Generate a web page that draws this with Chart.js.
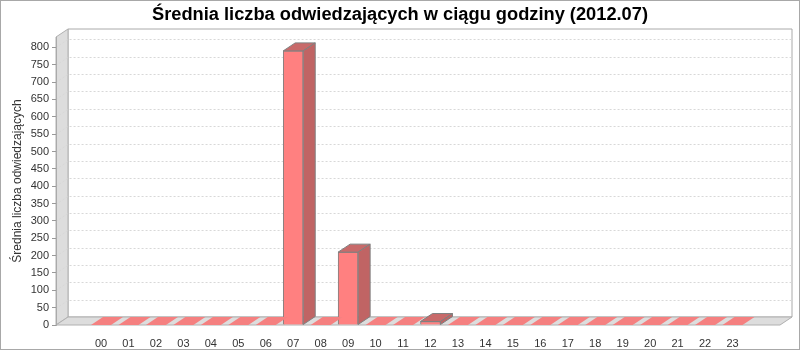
<!DOCTYPE html>
<html>
<head>
<meta charset="utf-8">
<script src="https://cdn.jsdelivr.net/npm/chart.js@4/dist/chart.umd.min.js"></script>
<style>
    body { margin: 0; background: #fff; }
    canvas { display: block; }
</style>
</head>
<body>
<canvas id="wykres" width="800" height="350"></canvas>
<script>
const godziny = ['00', '01', '02', '03', '04', '05', '06', '07', '08', '09', '10', '11',
    '12', '13', '14', '15', '16', '17', '18', '19', '20', '21', '22', '23'];
const odwiedzajacy = [0, 0, 0, 0, 0, 0, 0, 790, 0, 210, 0, 0,
    10, 0, 0, 0, 0, 0, 0, 0, 0, 0, 0, 0];
const tytul = 'Średnia liczba odwiedzających w ciągu godziny (2012.07)';
const tytulOsiY = 'Średnia liczba odwiedzających';

// przesuniecie 3D (jak w JFreeChart)
const dx = 12;
const dy = 8;
const font = 'Liberation Sans, Arial, sans-serif';

function poly(ctx, pts, fill, stroke) {
    ctx.beginPath();
    ctx.moveTo(pts[0][0], pts[0][1]);
    for (let i = 1; i < pts.length; i++) {
        ctx.lineTo(pts[i][0], pts[i][1]);
    }
    ctx.closePath();
    if (fill) {
        ctx.fillStyle = fill;
        ctx.fill();
    }
    if (stroke) {
        ctx.strokeStyle = stroke;
        ctx.lineWidth = 1;
        ctx.stroke();
    }
}

const sciany = {
    id: 'sciany',
    beforeDraw(chart) {
        const ctx = chart.ctx;
        const {left, right, top, bottom} = chart.chartArea;
        ctx.save();
        ctx.fillStyle = '#fff';
        ctx.fillRect(0, 0, chart.width, chart.height);
        ctx.strokeStyle = '#a8a8a8';
        ctx.strokeRect(0.5, 0.5, chart.width - 1, chart.height - 1);

        // tylna sciana
        poly(ctx, [[left + dx, top - dy], [right + dx, top - dy], [right + dx, bottom - dy], [left + dx, bottom - dy]], '#fff', '#aaaaaa');
        // lewa sciana
        poly(ctx, [[left, top], [left + dx, top - dy], [left + dx, bottom - dy], [left, bottom]], '#dddddd', '#b0b0b0');
        // podloga
        poly(ctx, [[left, bottom], [left + dx, bottom - dy], [right + dx, bottom - dy], [right, bottom]], '#dddddd', '#b0b0b0');

        // linie siatki na tylnej scianie
        const y = chart.scales.y;
        ctx.setLineDash([2, 2]);
        ctx.strokeStyle = '#d8d8d8';
        y.ticks.forEach(t => {
            if (t.value === 0) return;
            const py = Math.round(y.getPixelForValue(t.value)) + 0.5;
            ctx.beginPath();
            ctx.moveTo(left, py);
            ctx.lineTo(left + dx, py - dy);
            ctx.lineTo(right + dx, py - dy);
            ctx.stroke();
        });
        ctx.restore();
    },
    afterDatasetsDraw(chart) {
        const ctx = chart.ctx;
        const meta = chart.getDatasetMeta(0);
        ctx.save();
        meta.data.forEach((bar, i) => {
            const w = bar.width / 2;
            const x0 = bar.x - w;
            const x1 = bar.x + w;
            const yt = bar.y;
            const yb = bar.base;
            if (odwiedzajacy[i] === 0) {
                poly(ctx, [[x0, yb], [x0 + dx, yb - dy], [x1 + dx, yb - dy], [x1, yb]], '#f58080', null);
                return;
            }
            // gora
            poly(ctx, [[x0, yt], [x0 + dx, yt - dy], [x1 + dx, yt - dy], [x1, yt]], '#c86a6a', '#808080');
            // bok
            poly(ctx, [[x1, yt], [x1 + dx, yt - dy], [x1 + dx, yb - dy], [x1, yb]], '#c06464', '#808080');
        });
        ctx.restore();
    }
};

const ctx = document.getElementById('wykres').getContext('2d');

const data = {
    datasets: [{
        data: godziny.map((g, i) => ({x: i, y: odwiedzajacy[i]})),
        backgroundColor: '#ff8080',
        borderColor: '#808080',
        borderWidth: 1,
        barThickness: 20
    }]
};

const config = {
    type: 'bar',
    data: data,
    options: {
        responsive: false,
        animation: false,
        events: [],
        layout: {
            padding: {left: 10, right: 10, top: 0, bottom: 0}
        },
        plugins: {
            legend: {display: false},
            tooltip: {enabled: false},
            title: {
                display: true,
                text: tytul,
                color: '#000',
                font: {family: font, size: 18.25, weight: 'bold', lineHeight: 1.2},
                padding: {top: 4, bottom: 11.1}
            }
        },
        scales: {
            x: {
                type: 'linear',
                offset: false,
                min: -1.64,
                max: 24.73,
                afterBuildTicks: s => {
                    s.ticks = godziny.map((g, i) => ({value: i}));
                },
                afterFit: s => { s.height = 25; },
                grid: {display: false},
                border: {display: false},
                ticks: {
                    stepSize: 1,
                    autoSkip: false,
                    maxRotation: 0,
                    padding: 4,
                    color: '#333',
                    font: {family: font, size: 11},
                    callback: v => godziny[v]
                }
            },
            y: {
                min: 0,
                max: 830,
                afterFit: s => { s.width = 46; },
                grid: {
                    drawOnChartArea: false,
                    drawTicks: true,
                    tickLength: 4,
                    color: '#999'
                },
                border: {display: true, color: '#aaaaaa'},
                ticks: {
                    stepSize: 50,
                    maxTicksLimit: 100,
                    includeBounds: false,
                    padding: 3,
                    color: '#333',
                    font: {family: font, size: 11}
                },
                title: {
                    display: true,
                    text: tytulOsiY,
                    color: '#333',
                    font: {family: font, size: 12},
                    padding: {top: 0, bottom: 0}
                }
            },
            // pusta os po prawej, tylko miejsce na sciane 3D
            prawa: {
                position: 'right',
                afterFit: s => { s.width = 10; },
                grid: {display: false},
                border: {display: false},
                ticks: {display: false}
            }
        }
    },
    plugins: [sciany]
};

const wykres = new Chart(ctx, config);
</script>
</body>
</html>
